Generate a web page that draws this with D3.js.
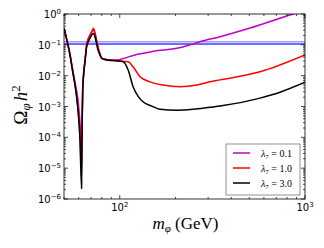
<!DOCTYPE html>
<html>
<head>
<meta charset="utf-8">
<script src="https://cdn.jsdelivr.net/npm/d3@7"></script>
<style>
body { margin: 0; background: #fff; }
</style>
</head>
<body>
<div id="chart"></div>
<script>
var width = 324;
var height = 248;

// relic abundance curves: [m (GeV), Omega h^2]
var lam01 = [[50,0.35],[52,0.13],[53.9,0.047],[55.5,0.018],[57.3,0.0062],[59.5,0.0016],[61.4,1.7e-4],[62.2,4e-5],[62.7,6e-4],[63.1,0.004],[63.6,0.009],[65,0.035],[66.3,0.1],[69.1,0.2],[70.9,0.27],[72.1,0.32],[73.5,0.23],[76.3,0.082],[78.2,0.05],[80,0.037],[85.5,0.033],[90,0.032],[96.5,0.032],[104.5,0.036],[121,0.047],[134,0.053],[160,0.065],[203,0.077],[240,0.1],[271,0.126],[348,0.183],[505,0.35],[862,1.0],[1000,1.3]];
var lam10 = [[50,0.35],[52,0.13],[53.9,0.047],[55.5,0.016],[57.3,0.0052],[59.5,8.5e-4],[61,1.1e-4],[62.2,6e-6],[62.7,4e-4],[63.1,0.0036],[63.5,0.0075],[65,0.032],[66.3,0.106],[69.1,0.208],[70.9,0.28],[72.1,0.345],[73.5,0.24],[76.3,0.085],[78.2,0.05],[80,0.037],[85.5,0.033],[90,0.032],[97,0.031],[104.5,0.029],[111,0.0283],[118,0.0195],[128.6,0.0092],[145.7,0.0063],[171,0.005],[211,0.0044],[261,0.005],[307,0.0063],[348,0.0073],[572,0.0134],[1000,0.047]];
var lam30 = [[50,0.35],[52,0.13],[53.9,0.047],[55.5,0.015],[57.3,0.005],[59.5,7.6e-4],[61,8e-5],[62.2,2.2e-6],[62.7,3.6e-4],[63.1,0.0034],[63.5,0.0072],[65,0.03],[66.3,0.087],[69.1,0.163],[70.5,0.208],[72.2,0.233],[73.5,0.183],[76.3,0.068],[78.2,0.047],[79.9,0.0365],[85.5,0.032],[90,0.031],[97,0.03],[104.5,0.0283],[111,0.0152],[118,0.0044],[126,0.0021],[134,0.0014],[149,0.00103],[165,0.00081],[203,0.00076],[250,0.00081],[307,0.00094],[348,0.00103],[572,0.00187],[733,0.0029],[1000,0.0061]];

var series = [
  {name: "0.1", values: lam01, color: "#c000c8"},
  {name: "1.0", values: lam10, color: "#ff0000"},
  {name: "3.0", values: lam30, color: "#000000"}
];
var bandLines = [{v: 0.126, color: "#9d9dff"}, {v: 0.106, color: "#3c3cff"}];

var xTicks = [100, 1000];
var xExp = ["2", "3"];
var yTicks = [1, 0.1, 0.01, 1e-3, 1e-4, 1e-5, 1e-6];
var yExp = ["0", "\u22121", "\u22122", "\u22123", "\u22124", "\u22125", "\u22126"];

var margin = {left: 64, right: 19, top: 14, bottom: 49};
var x = d3.scaleLog().domain([50, 1000]).range([margin.left, width - margin.right]);
var y = d3.scaleLog().domain([1e-6, 1]).range([height - margin.bottom, margin.top]);

var svg = d3.select("#chart").append("svg")
  .attr("width", width)
  .attr("height", height);

svg.append("clipPath").attr("id", "clip")
  .append("rect")
  .attr("x", x.range()[0]).attr("y", y.range()[1])
  .attr("width", x.range()[1] - x.range()[0])
  .attr("height", y.range()[0] - y.range()[1]);

var plot = svg.append("g").attr("clip-path", "url(#clip)");

// observed relic density band
plot.selectAll(".band")
  .data(bandLines)
  .enter().append("line")
  .attr("x1", x.range()[0]).attr("x2", x.range()[1])
  .attr("y1", d => y(d.v)).attr("y2", d => y(d.v))
  .attr("stroke", d => d.color)
  .attr("stroke-width", 1.4);

var line = d3.line()
  .x(d => x(d[0]))
  .y(d => y(d[1]))
  .curve(d3.curveMonotoneX);

plot.selectAll(".curve")
  .data(series)
  .enter().append("path")
  .attr("fill", "none")
  .attr("stroke", d => d.color)
  .attr("stroke-width", 1.5)
  .attr("stroke-linejoin", "round")
  .attr("d", d => line(d.values));

// frame and ticks (inward, on all four sides)
var x0 = x.range()[0], x1 = x.range()[1], y0 = y.range()[0], y1 = y.range()[1];
var ticksG = svg.append("g").attr("stroke", "#000").attr("stroke-width", 0.7);

var xMinor = [];
for (var d = 10; d <= 1000; d *= 10) {
  for (var k = 1; k < 10; k++) {
    var v = d * k;
    if (v >= 50 && v <= 1000 && xTicks.indexOf(v) < 0) xMinor.push(v);
  }
}
var yMinor = [];
for (var e = -6; e < 0; e++) {
  for (var k = 2; k < 10; k++) yMinor.push(k * Math.pow(10, e));
}

xTicks.forEach(function(v) {
  ticksG.append("line").attr("x1", x(v)).attr("x2", x(v)).attr("y1", y0).attr("y2", y0 - 4);
  ticksG.append("line").attr("x1", x(v)).attr("x2", x(v)).attr("y1", y1).attr("y2", y1 + 4);
});
xMinor.forEach(function(v) {
  ticksG.append("line").attr("x1", x(v)).attr("x2", x(v)).attr("y1", y0).attr("y2", y0 - 2);
  ticksG.append("line").attr("x1", x(v)).attr("x2", x(v)).attr("y1", y1).attr("y2", y1 + 2);
});
yTicks.forEach(function(v) {
  ticksG.append("line").attr("y1", y(v)).attr("y2", y(v)).attr("x1", x0).attr("x2", x0 + 4);
  ticksG.append("line").attr("y1", y(v)).attr("y2", y(v)).attr("x1", x1).attr("x2", x1 - 4);
});
yMinor.forEach(function(v) {
  ticksG.append("line").attr("y1", y(v)).attr("y2", y(v)).attr("x1", x0).attr("x2", x0 + 2);
  ticksG.append("line").attr("y1", y(v)).attr("y2", y(v)).attr("x1", x1).attr("x2", x1 - 2);
});

svg.append("rect")
  .attr("x", x0).attr("y", y1)
  .attr("width", x1 - x0).attr("height", y0 - y1)
  .attr("fill", "none").attr("stroke", "#000").attr("stroke-width", 0.8);

// tick labels
var font = "DejaVu Sans, sans-serif";
xTicks.forEach(function(v, i) {
  var t = svg.append("text")
    .attr("x", x(v)).attr("y", y0 + 12)
    .attr("text-anchor", "middle")
    .attr("font-family", font).attr("font-size", 10);
  t.append("tspan").text("10");
  t.append("tspan").attr("dy", -4).attr("font-size", 7).text(xExp[i]);
});
yTicks.forEach(function(v, i) {
  var t = svg.append("text")
    .attr("x", x0 - 3).attr("y", y(v) + 4)
    .attr("text-anchor", "end")
    .attr("font-family", font).attr("font-size", 10);
  t.append("tspan").text("10");
  t.append("tspan").attr("dy", -4).attr("font-size", 7).text(yExp[i]);
});

// axis titles
var serif = "Liberation Serif, DejaVu Serif, serif";
var xl = svg.append("text")
  .attr("x", (x0 + x1) / 2 + 1).attr("y", 229)
  .attr("text-anchor", "middle")
  .attr("font-family", serif).attr("font-size", 17);
xl.append("tspan").attr("font-style", "italic").text("m");
xl.append("tspan").attr("font-style", "italic").attr("font-size", 11).attr("dy", 3).text("\u03c6");
xl.append("tspan").attr("dy", -3).text(" (GeV)");

var yl = svg.append("text")
  .attr("transform", "translate(27,105) rotate(-90)")
  .attr("text-anchor", "middle")
  .attr("font-family", serif).attr("font-size", 19);
yl.append("tspan").text("\u03a9");
yl.append("tspan").attr("font-style", "italic").attr("font-size", 13).attr("dy", 3).text("\u03c6");
yl.append("tspan").attr("font-style", "italic").attr("dy", -3).attr("dx", 2).text("h");
yl.append("tspan").attr("font-size", 13).attr("dy", -7).text("2");

// legend
var lg = svg.append("g").attr("transform", "translate(226,144)");
lg.append("rect")
  .attr("width", 74).attr("height", 51)
  .attr("fill", "#fff").attr("stroke", "#777").attr("stroke-width", 0.8);
series.forEach(function(s, i) {
  var yy = 9 + i * 15;
  lg.append("line")
    .attr("x1", 7).attr("x2", 24).attr("y1", yy).attr("y2", yy)
    .attr("stroke", s.color).attr("stroke-width", 1.5);
  var t = lg.append("text")
    .attr("x", 35).attr("y", yy + 3.5)
    .attr("font-family", serif).attr("font-size", 10);
  t.append("tspan").attr("font-style", "italic").text("\u03bb");
  t.append("tspan").attr("font-size", 7).attr("dy", 2).text("7");
  t.append("tspan").attr("dy", -2).text(" = " + s.name);
});
</script>
</body>
</html>
